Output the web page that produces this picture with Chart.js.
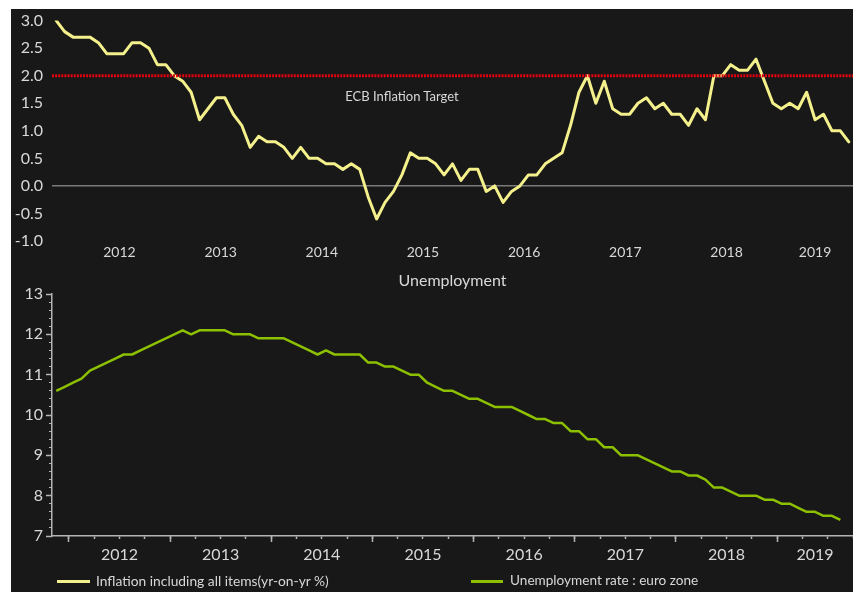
<!DOCTYPE html>
<html>
<head>
<meta charset="utf-8">
<script src="https://cdn.jsdelivr.net/npm/chart.js@4.4.0/dist/chart.umd.min.js"></script>
<style>
html,body{margin:0;padding:0;background:#fff;width:853px;height:592px;overflow:hidden;font-family:Lato,sans-serif}
#panel{position:absolute;left:11px;top:9px;width:842px;height:583px;background:#181818}
#c1{position:absolute;left:0;top:-7px}
#c2{position:absolute;left:0;top:259px}
.txt{position:absolute;color:#d8d8d8;white-space:nowrap;line-height:1}
.sw{position:absolute;height:3px}
</style>
</head>
<body>
<div id="panel">
  <canvas id="c1" width="842" height="264" style="width:842px;height:264px"></canvas>
  <canvas id="c2" width="842" height="324" style="width:842px;height:324px"></canvas>
  <div id="target" class="txt" style="font-size:13px;top:81px;left:391px;transform:translateX(-50%)"></div>
  <div class="sw" style="left:46px;top:571px;width:33px;background:#f4f08c"></div>
  <div id="leg1" class="txt" style="font-size:13.8px;left:85px;top:565px"></div>
  <div class="sw" style="left:460px;top:571px;width:32px;background:#8cc000"></div>
  <div id="leg2" class="txt" style="font-size:13.6px;left:499px;top:565px"></div>
</div>
<script>
// ---- data (monthly, Nov 2011 .. Sep 2019) ----
const inflation = [3.0,2.8,2.7,2.7,2.7,2.6,2.4,2.4,2.4,2.6,2.6,2.5,2.2,2.2,2.0,1.9,1.7,1.2,1.4,1.6,
  1.6,1.3,1.1,0.7,0.9,0.8,0.8,0.7,0.5,0.7,0.5,0.5,0.4,0.4,0.3,0.4,0.3,-0.2,-0.6,-0.3,
  -0.1,0.2,0.6,0.5,0.5,0.4,0.2,0.4,0.1,0.3,0.3,-0.1,0.0,-0.3,-0.1,0.0,0.2,0.2,0.4,0.5,
  0.6,1.1,1.7,2.0,1.5,1.9,1.4,1.3,1.3,1.5,1.6,1.4,1.5,1.3,1.3,1.1,1.4,1.2,2.0,2.0,
  2.2,2.1,2.1,2.3,1.9,1.5,1.4,1.5,1.4,1.7,1.2,1.3,1.0,1.0,0.8];
const unemployment = [10.6,10.7,10.8,10.9,11.1,11.2,11.3,11.4,11.5,11.5,11.6,11.7,11.8,11.9,12.0,12.1,12.0,12.1,12.1,12.1,
  12.1,12.0,12.0,12.0,11.9,11.9,11.9,11.9,11.8,11.7,11.6,11.5,11.6,11.5,11.5,11.5,11.5,11.3,11.3,11.2,
  11.2,11.1,11.0,11.0,10.8,10.7,10.6,10.6,10.5,10.4,10.4,10.3,10.2,10.2,10.2,10.1,10.0,9.9,9.9,9.8,
  9.8,9.6,9.6,9.4,9.4,9.2,9.2,9.0,9.0,9.0,8.9,8.8,8.7,8.6,8.6,8.5,8.5,8.4,8.2,8.2,
  8.1,8.0,8.0,8.0,7.9,7.9,7.8,7.8,7.7,7.6,7.6,7.5,7.5,7.4];
const yearLabels = ['2012','2013','2014','2015','2016','2017','2018','2019'];
const inflationTicks = [-1.0,-0.5,0.0,0.5,1.0,1.5,2.0,2.5,3.0];
const unemploymentTicks = [7,8,9,10,11,12,13];
const targetLevel = 2.0;
const targetLabel = 'ECB Inflation Target';
const chartTitle = 'Unemployment';
const legendLabels = ['Inflation including all items(yr-on-yr %)','Unemployment rate : euro zone'];

// ---- layout helpers ----
const firstYearStart = 1.5;           // position of 1 Jan 2012 on the month axis
const xMin = -0.5, xMax = inflation.length - 0.5;
const FONT = 'Lato, sans-serif';
const TXT = '#d8d8d8';
const AXIS = '#b4b4b4';
Chart.defaults.font.family = FONT;
Chart.defaults.color = TXT;

function yearCenters(){
  return yearLabels.map((y,k)=>{
    const s = Math.max(firstYearStart + 12*k, xMin);
    const e = Math.min(firstYearStart + 12*(k+1), xMax);
    return {value:(s+e)/2};
  });
}
function stepTicks(start, end, step){
  const out=[]; for(let v=start; v<=end+1e-9; v+=step) out.push({value:Math.round(v*1000)/1000}); return out;
}

document.getElementById('target').textContent = targetLabel;
document.getElementById('leg1').textContent = legendLabels[0];
document.getElementById('leg2').textContent = legendLabels[1];

const yearLabelAxis = (h, fontSize, pad) => ({
  type:'linear', position:'bottom', min:xMin, max:xMax, bounds:'data', weight:2,
  grid:{display:false, drawTicks:false}, border:{display:false},
  ticks:{autoSkip:false, maxRotation:0, minRotation:0, padding:pad, color:TXT,
         font:{size:fontSize}, callback:(v,i)=>yearLabels[i]},
  afterBuildTicks:s=>{ s.ticks = yearCenters(); },
  afterFit:s=>{ s.height = h; }
});

// ---- top chart: inflation ----
new Chart(document.getElementById('c1'), {
  type:'line',
  data:{datasets:[
    {label:targetLabel, data:[{x:xMin,y:targetLevel},{x:xMax,y:targetLevel}],
     borderColor:'#e3000f', borderWidth:3, borderDash:[2,1.1], pointRadius:0, order:0},
    {label:legendLabels[0], data:inflation.map((v,i)=>({x:i,y:v})),
     borderColor:'#f4f08c', borderWidth:3, pointRadius:0, tension:0,
     borderJoinStyle:'round', borderCapStyle:'round', order:1}
  ]},
  options:{
    responsive:false, animation:false, events:[],
    layout:{padding:{top:6, right:0, bottom:0, left:0}},
    plugins:{legend:{display:false}, title:{display:false}, tooltip:{enabled:false}},
    scales:{
      x: yearLabelAxis(25, 14, 3),
      y:{type:'linear', min:-1, max:3, bounds:'data',
         grid:{drawTicks:false, lineWidth:1.5,
               color:c=> (c.tick && c.tick.value===0) ? '#7a7a7a' : 'rgba(0,0,0,0)'},
         border:{display:false},
         ticks:{padding:9, color:TXT, font:{size:16}, callback:v=>Number(v).toFixed(1)},
         afterBuildTicks:s=>{ s.ticks = inflationTicks.map(v=>({value:v})); },
         afterFit:s=>{ s.width = 41; }}
    }
  }
});

// ---- bottom chart: unemployment ----
new Chart(document.getElementById('c2'), {
  type:'line',
  data:{datasets:[
    {label:legendLabels[1], data:unemployment.map((v,i)=>({x:i,y:v})), xAxisID:'x', yAxisID:'y',
     borderColor:'#8cc000', borderWidth:2.5, pointRadius:0, tension:0, borderJoinStyle:'round'}
  ]},
  options:{
    responsive:false, animation:false, events:[],
    layout:{padding:{top:0, right:0, bottom:26, left:0}},
    plugins:{legend:{display:false}, tooltip:{enabled:false},
      title:{display:true, text:chartTitle, color:TXT, fullSize:false,
             font:{size:16, weight:'normal'}, padding:{top:3.4, bottom:3.4}}},
    scales:{
      x: yearLabelAxis(30, 16, 9.5),
      xMajor:{type:'linear', position:'bottom', min:xMin, max:xMax, bounds:'data', weight:1,
        grid:{display:true, drawOnChartArea:false, drawTicks:true, tickLength:6, tickWidth:1.5, color:AXIS},
        border:{display:false}, ticks:{display:false},
        afterBuildTicks:s=>{ s.ticks = stepTicks(firstYearStart, xMax, 12); },
        afterFit:s=>{ s.height = 0; }},
      xMinor:{type:'linear', position:'bottom', min:xMin, max:xMax, bounds:'data', weight:0,
        grid:{display:true, drawOnChartArea:false, drawTicks:true, tickLength:3, tickWidth:1.5, color:AXIS},
        border:{display:true, color:AXIS, width:1.5}, ticks:{display:false},
        afterBuildTicks:s=>{ s.ticks = stepTicks(firstYearStart, xMax, 3); },
        afterFit:s=>{ s.height = 0; }},
      y:{type:'linear', position:'left', min:7, max:13, bounds:'data', weight:2,
        grid:{display:false, drawTicks:false}, border:{display:false},
        ticks:{padding:9, color:TXT, font:{size:16}},
        afterBuildTicks:s=>{ s.ticks = unemploymentTicks.map(v=>({value:v})); },
        afterFit:s=>{ s.width = 41; }},
      yMajor:{type:'linear', position:'left', min:7, max:13, bounds:'data', weight:1,
        grid:{display:true, drawOnChartArea:false, drawTicks:true, tickLength:6, tickWidth:1.5, color:AXIS},
        border:{display:false}, ticks:{display:false},
        afterBuildTicks:s=>{ s.ticks = unemploymentTicks.map(v=>({value:v})); },
        afterFit:s=>{ s.width = 0; }},
      yMinor:{type:'linear', position:'left', min:7, max:13, bounds:'data', weight:0,
        grid:{display:true, drawOnChartArea:false, drawTicks:true, tickLength:3, tickWidth:1, color:AXIS},
        border:{display:true, color:AXIS, width:1.5}, ticks:{display:false},
        afterBuildTicks:s=>{ s.ticks = stepTicks(7, 13, 0.2); },
        afterFit:s=>{ s.width = 0; }}
    }
  }
});
</script>
</body>
</html>
